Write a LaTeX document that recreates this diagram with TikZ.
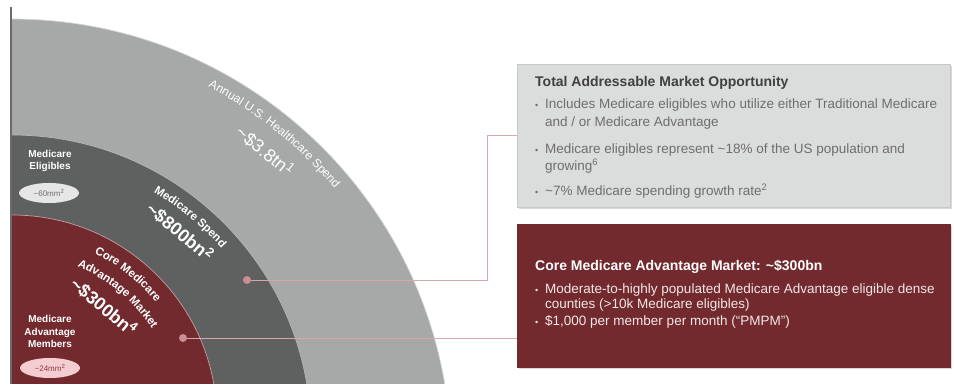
\documentclass[tikz,border=0pt]{standalone}
\usepackage{fontspec}
\setmainfont{Liberation Sans}
\usetikzlibrary{calc,decorations.text,shadows,shapes.geometric}

\definecolor{ringout}{HTML}{A7A8A8}
\definecolor{ringmid}{HTML}{5F6060}
\definecolor{ringin}{HTML}{722A2F}
\definecolor{axisgray}{HTML}{6A6B6B}
\definecolor{boxgray}{HTML}{DBDCDC}
\definecolor{boxedge}{HTML}{C6C7C7}
\definecolor{boxred}{HTML}{722A2F}
\definecolor{titlegray}{HTML}{404040}
\definecolor{bodygray}{HTML}{6E6E6E}
\definecolor{bodypink}{HTML}{F3E7E7}
\definecolor{linkpink}{HTML}{D8A7AB}
\definecolor{dotpink}{HTML}{CB8E94}
\definecolor{ovalgray}{HTML}{E6E6E6}
\definecolor{ovalpink}{HTML}{F4CDD0}
\definecolor{ovalred}{HTML}{8B3A40}

\newcommand{\arcfont}{\bfseries\fontsize{11.5}{11.5}\selectfont}
\newcommand{\thinfont}{\fontsize{12}{12}\selectfont}

\tikzset{
  ring/.style={fill=#1, draw=white!55!#1, line width=0.7pt},
  arclabel/.style={decorate, decoration={text along path, text align=center, text color=white, text={#1}}},
  bignum/.style={text=white, font=\bfseries\fontsize{18}{18}\selectfont, inner sep=0pt},
  sidelabel/.style={text=white, font=\bfseries\fontsize{10}{12.5}\selectfont, align=center, inner sep=0pt},
  oval/.style={ellipse, minimum width=60pt, minimum height=20pt, inner sep=0pt, font=\fontsize{8}{8}\selectfont},
  panel/.style={minimum width=433pt, minimum height=143pt, inner sep=0pt, line width=0.6pt,
    drop shadow={shadow xshift=1.5pt, shadow yshift=-2pt, opacity=0.3}},
  boxtitle/.style={anchor=base west, inner sep=0pt, font=\bfseries\fontsize{14}{14}\selectfont},
  bodytext/.style={anchor=base west, inner sep=0pt, font=\fontsize{13.5}{13.5}\selectfont},
  bulletmark/.style={anchor=base west, inner sep=0pt, font=\fontsize{9}{9}\selectfont},
  link/.style={draw=linkpink, line width=0.8pt},
  dot/.style={circle, fill=dotpink, inner sep=0pt, minimum size=8pt},
}

\begin{document}
\begin{tikzpicture}[x=1pt, y=1pt]
	%%%%% START %%%%%
	\useasboundingbox (0,0) rectangle (954,387);
	
	\coordinate (cout) at (12,-71);
	\coordinate (cmid) at (12,-47);
	\coordinate (cin) at (12,-33);
	
	% quarter rings
	\begin{scope}
		\clip (12,3) rectangle (954,387);
		\draw[ring=ringout] (cout) circle (439pt);
		\draw[ring=ringmid] (cmid) circle (299pt);
		\draw[ring=ringin] (cin) circle (205pt);
	\end{scope}
	\draw[line width=1.2pt, color=axisgray] (11,3) -- (11,380);
	
	% ring labels
	\path[arclabel={|\thinfont|Annual U.S. Healthcare Spend}] ($(cout)+(81:420)$) arc[start angle=81, end angle=21, radius=420pt];
	\node[bignum, font=\fontsize{18}{18}\selectfont, rotate=-39] (usspend) at ($(cout)+(50.5:398)$) {\textasciitilde\$3.8tn\textsuperscript{1}};
	
	\path[arclabel={|\arcfont|Medicare Spend}] ($(cmid)+(80:280)$) arc[start angle=80, end angle=21.2, radius=280pt];
	\node[bignum, rotate=-40] (mcspend) at ($(cmid)+(50.3:263)$) {\textasciitilde\$800bn\textsuperscript{2}};
	
	\path[arclabel={|\arcfont|Core Medicare}] ($(cin)+(82:186)$) arc[start angle=82, end angle=21, radius=186pt];
	\path[arclabel={|\arcfont|Advantage Market}] ($(cin)+(80:167)$) arc[start angle=80, end angle=20, radius=167pt];
	\node[bignum, rotate=-40] (mamarket) at ($(cin)+(51:146)$) {\textasciitilde\$300bn\textsuperscript{4}};
	
	% side labels
	\node[sidelabel] (eligibles) at (50,226) {Medicare\\Eligibles};
	\node[oval, fill=ovalgray, text=bodygray] (eligcount) at (49,194) {\textasciitilde60mm\textsuperscript{2}};
	\node[sidelabel] (members) at (50,55.5) {Medicare\\Advantage\\Members};
	\node[oval, fill=ovalpink, text=ovalred] (memcount) at (50,19) {\textasciitilde24mm\textsuperscript{2}};
	
	% callout boxes
	\node[panel, fill=boxgray, draw=boxedge] (tam) at (733.5,251.5) {};
	\node[panel, fill=boxred, draw=boxred] (core) at (733.5,91) {};
	
	% connectors
	\node[dot] (dotspend) at (247,107) {};
	\node[dot] (dotcore) at (183,49) {};
	\coordinate (kink) at (487,0);
	\draw[link] (dotspend) -- (dotspend -| kink) |- (tam.west);
	\draw[link] (dotcore) -- (dotcore -| core.west);
	
	% total addressable market text
	\node[boxtitle, text=titlegray] (tamtitle) at (535,300) {Total Addressable Market Opportunity};
	\node[bulletmark, text=bodygray] (tamdotone) at (535,278.5) {•};
	\node[bodytext, text=bodygray] (tamone) at (545,278.5) {Includes Medicare eligibles who utilize either Traditional Medicare};
	\node[bodytext, text=bodygray] (tamonemore) at (545,260.5) {and / or Medicare Advantage};
	\node[bulletmark, text=bodygray] (tamdottwo) at (535,233.5) {•};
	\node[bodytext, text=bodygray] (tamtwo) at (545,233.5) {Medicare eligibles represent \textasciitilde18\% of the US population and};
	\node[bodytext, text=bodygray] (tamtwomore) at (545,216.5) {growing\textsuperscript{6}};
	\node[bulletmark, text=bodygray] (tamdotthree) at (535,191.5) {•};
	\node[bodytext, text=bodygray] (tamthree) at (545,191.5) {\textasciitilde7\% Medicare spending growth rate\textsuperscript{2}};
	
	% core market text
	\node[boxtitle, text=white] (coretitle) at (535,116) {Core Medicare Advantage Market: \textasciitilde\$300bn};
	\node[bulletmark, text=bodypink] (coredotone) at (535,93.5) {•};
	\node[bodytext, text=bodypink] (coreone) at (545,93.5) {Moderate-to-highly populated Medicare Advantage eligible dense};
	\node[bodytext, text=bodypink] (coreonemore) at (545,78.5) {counties (>10k Medicare eligibles)};
	\node[bulletmark, text=bodypink] (coredottwo) at (535,61.5) {•};
	\node[bodytext, text=bodypink] (coretwo) at (545,61.5) {\$1,000 per member per month (``PMPM'')};
	%%%%% END %%%%%
\end{tikzpicture}
\end{document}
